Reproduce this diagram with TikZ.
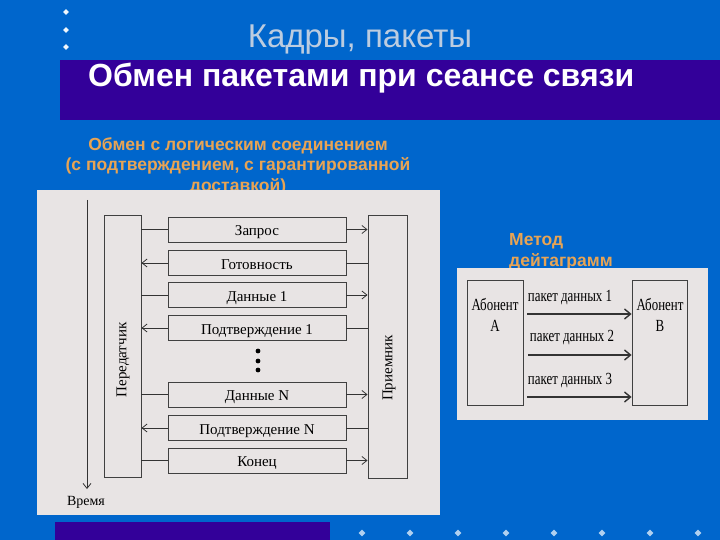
\documentclass[tikz,border=0pt]{standalone}
\usepackage{fontspec}
\setmainfont{Liberation Serif}
\newfontfamily\sansf{Liberation Sans}
\newfontfamily\condf[FakeStretch=0.76]{Liberation Serif}
\usetikzlibrary{arrows.meta,shapes.geometric}
\definecolor{bgblue}{RGB}{0,102,204}
\definecolor{bandpurple}{RGB}{51,0,153}
\definecolor{panelgray}{RGB}{232,228,228}
\definecolor{titlegray}{RGB}{188,204,224}
\definecolor{orangetxt}{RGB}{232,164,84}
\definecolor{bulletc}{RGB}{176,208,240}
\tikzset{
  msgbox/.style={draw=black!75, line width=0.9pt, fill=panelgray, minimum width=178pt, minimum height=25pt, inner sep=0pt, text height=13pt, text depth=1pt, font=\fontsize{15}{16}\selectfont},
  sidebox/.style={draw=black!75, line width=0.9pt, fill=panelgray, inner sep=0pt},
  arr/.style={-{Straight Barb[length=5pt,width=8pt]}, line width=0.8pt, draw=black!80},
  plain/.style={line width=0.8pt, draw=black!80},
  darr/.style={-{Straight Barb[length=6pt,width=10pt]}, line width=1.4pt, draw=black!80},
  orangelbl/.style={text=orangetxt, font=\sansf\bfseries\fontsize{17.5}{20.5}\selectfont, inner sep=0pt},
  pkt/.style={font=\condf\fontsize{17}{18}\selectfont, inner sep=0pt},
  bullet/.style={fill=bulletc, draw=none, diamond, inner sep=0pt, minimum size=7pt},
}
\begin{document}
\begin{tikzpicture}[x=1pt,y=-1pt]
% background
\fill[bgblue] (0,0) rectangle (720,540);
\useasboundingbox (0,0) rectangle (720,540);
% top bullets
\foreach \yy [count=\i] in {12,30,47} \node[bullet, fill=white!80!bulletc, minimum size=6pt] (tb\i) at (66,\yy) {};
% title
\node[text=titlegray, font=\sansf\fontsize{33}{35}\selectfont, inner sep=0pt] (title) at (360,40) {Кадры, пакеты};
\fill[bandpurple] (60,60) rectangle (720,120);
\node[text=white, font=\sansf\bfseries\fontsize{32}{34}\selectfont, inner sep=0pt, anchor=west] (sub) at (88,78) {Обмен пакетами при сеансе связи};
% orange label left
\node[orangelbl, align=center] (lbl1) at (238,166) {Обмен с логическим соединением\\(с подтверждением, с гарантированной\\доставкой)};
% left panel
\fill[panelgray] (37,190) rectangle (440,515);
% time axis
\coordinate (t0) at (87,200);
\coordinate (t1) at (87,489);
\draw[arr] (t0) -- (t1);
\node[font=\fontsize{14}{15}\selectfont, inner sep=0pt] (time) at (86,502) {Время};
% side boxes
\node[sidebox, minimum width=37pt, minimum height=262pt] (tx) at (122.5,346) {};
\node[sidebox, minimum width=39pt, minimum height=263pt] (rx) at (387.5,346.5) {};
\node[rotate=90, font=\fontsize{15}{16}\selectfont, inner sep=0pt] (txl) at (123,360) {Передатчик};
\node[rotate=90, font=\fontsize{15}{16}\selectfont, inner sep=0pt] (rxl) at (389,368) {Приемник};
% messages
\node[msgbox] (m1) at (257,229.5) {Запрос};
\node[msgbox] (m2) at (257,263) {Готовность};
\node[msgbox] (m3) at (257,295) {Данные 1};
\node[msgbox] (m4) at (257,328) {Подтверждение 1};
\node[msgbox] (m5) at (257,394.5) {Данные N};
\node[msgbox] (m6) at (257,428) {Подтверждение N};
\node[msgbox] (m7) at (257,460.5) {Конец};
% forward messages
\foreach \m in {m1,m3,m5,m7} {
  \draw[plain] (tx.east |- \m.west) -- (\m.west);
  \draw[arr] (\m.east) -- (rx.west |- \m.east);
}
% backward messages
\foreach \m in {m2,m4,m6} {
  \draw[plain] (rx.west |- \m.east) -- (\m.east);
  \draw[arr] (\m.west) -- (tx.east |- \m.west);
}
% dots
\foreach \yy [count=\i] in {351,361,370} \fill[black] (258,\yy) circle (2.4pt);
% right part
\node[orangelbl, align=left, anchor=west] (met) at (509,241) {Метод};
\node[orangelbl, align=left, anchor=west] (met2) at (509,262) {дейтаграмм};
\fill[panelgray] (457,268) rectangle (708,420);
\node[sidebox, minimum width=56pt, minimum height=125pt] (ab1) at (495,342.5) {};
\node[sidebox, minimum width=55pt, minimum height=125pt] (ab2) at (659.5,342.5) {};
\node[pkt, align=center] (ab1t) at (495,315) {Абонент\\[3pt]А};
\node[pkt, align=center] (ab2t) at (660,315) {Абонент\\[3pt]В};
\coordinate (p1s) at (527,314);
\coordinate (p2s) at (528,355);
\coordinate (p3s) at (527,397);
\draw[darr] (p1s) -- (ab2.west |- p1s) coordinate (p1e);
\draw[darr] (p2s) -- (ab2.west |- p2s) coordinate (p2e);
\draw[darr] (p3s) -- (ab2.west |- p3s) coordinate (p3e);
\node[pkt] (pl1) at (570,298) {пакет данных 1};
\node[pkt] (pl2) at (572,338) {пакет данных 2};
\node[pkt] (pl3) at (570,381) {пакет данных 3};
% bottom
\fill[bandpurple] (55,522) rectangle (330,540);
\foreach \xx [count=\i] in {362,410,458,506,554,602,650,698} \node[bullet] (bb\i) at (\xx,533) {};
\end{tikzpicture}
\end{document}
